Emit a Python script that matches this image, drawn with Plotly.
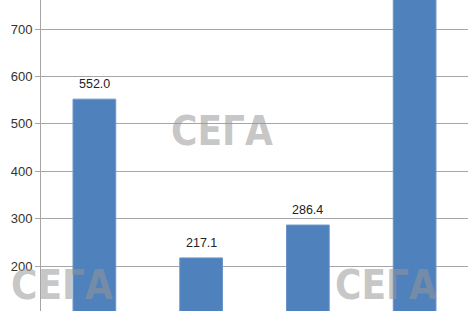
import plotly.graph_objects as go

categories = ["Категория 1", "Категория 2", "Категория 3", "Категория 4"]
values = [552.0, 217.1, 286.4, 810.0]
labels = ["552.0", "217.1", "286.4", ""]
tick_vals = [100, 200, 300, 400, 500, 600, 700]
tick_text = ["100", "200", "300", "400", "500", "600", "700"]

fig = go.Figure()
fig.add_trace(go.Bar(
    x=categories, y=values,
    marker=dict(color="#4F81BD", line=dict(color="#6a95c8", width=1)),
    width=0.4,
    hoverinfo="skip",
))

for c, v, t in zip(categories, values, labels):
    if t:
        fig.add_annotation(x=c, y=v, text=t, showarrow=False, yanchor="bottom",
                           yshift=6, font=dict(family="Liberation Sans", size=12.5, color="#222"))

wm_font = dict(family="DejaVu Sans Condensed", size=40, color="rgba(150,150,150,0.55)")
for px, py, ya in [(0.423, 0.579, "middle"), (0.05, 0.165, "top"), (0.808, 0.165, "top")]:
    fig.add_annotation(x=px, y=py, xref="paper", yref="paper", text="<b>СЕГА</b>",
                       showarrow=False, xanchor="center", yanchor=ya, font=wm_font)

fig.update_layout(
    width=473, height=311,
    margin=dict(l=41, r=5, t=0, b=0),
    plot_bgcolor="white", paper_bgcolor="white",
    showlegend=False,
    bargap=0.6,
)
fig.update_xaxes(showticklabels=False, showgrid=False, showline=False, zeroline=False)
fig.update_yaxes(range=[105.1, 761.2], tickvals=tick_vals, ticktext=tick_text,
                 showgrid=True, gridcolor="#a6a6a6", gridwidth=1,
                 showline=True, linecolor="#a6a6a6", linewidth=1,
                 ticks="outside", ticklen=5, tickcolor="#a6a6a6",
                 tickfont=dict(family="Liberation Sans", size=13, color="#333"),
                 zeroline=False)

fig.write_html("out.html")
